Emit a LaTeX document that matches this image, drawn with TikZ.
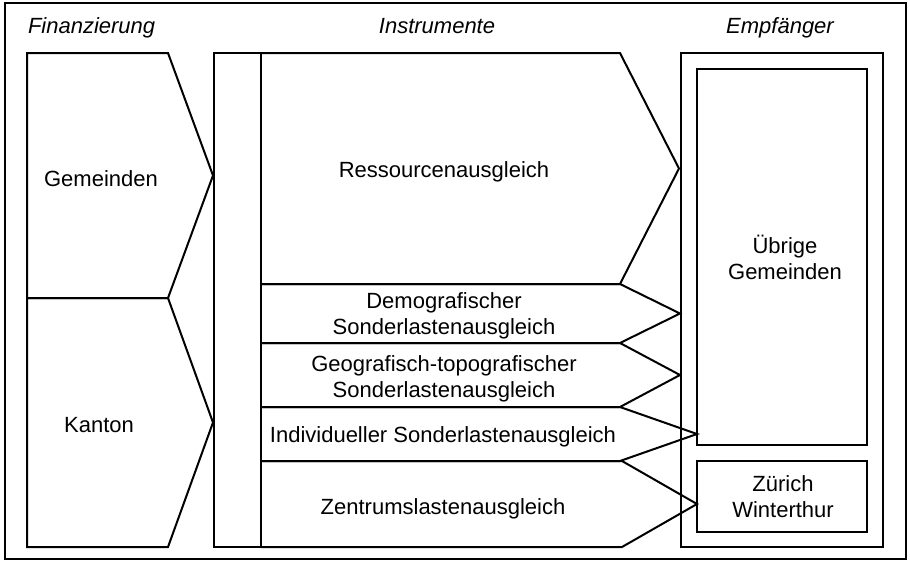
\documentclass[tikz,border=0pt]{standalone}
\usepackage{fontspec}
\setmainfont{Liberation Sans}
\usepackage{tikz}
\usetikzlibrary{arrows.meta}

\begin{document}
\begin{tikzpicture}[x=0.5pt,y=-0.5pt,line width=1pt,line join=miter,every node/.style={font=\fontsize{11}{13}\selectfont,inner sep=0pt},ttl/.style={font=\fontsize{11}{13}\selectfont\itshape,anchor=base}]
\useasboundingbox (0,0) rectangle (910,562);
\draw[line width=1.25pt] (5,3) rectangle (906,559);
% column titles
\node[ttl,anchor=base west] (fin) at (27,33) {Finanzierung};
\node[ttl] (ins) at (437,33) {Instrumente};
\node[ttl] (emp) at (780,33) {Empfänger};
% financing: two chevrons
\begin{scope}
\draw (27,53) -- (168,53) -- (213,175.5) -- (168,298) -- (27,298) -- cycle;
\draw (27,298) -- (168,298) -- (213,422.5) -- (168,547) -- (27,547) -- cycle;
\node (gem) at (101,179) {Gemeinden};
\node (kan) at (99,425) {Kanton};
\end{scope}
% instruments: bar and five chevrons
\begin{scope}
\draw (214,53) rectangle (261,547);
\foreach \t/\b/\c/\p in {53/284/620/679, 284/343/620/680, 343/407/620/680, 407/461/620/697, 461/547/622/697} {\draw (261,\t) -- (\c,\t) -- (\p,{(\t+\b)/2}) -- (\c,\b) -- (261,\b);}
\node[anchor=base] (res) at (444,177) {Ressourcenausgleich};
\node[align=center] (demo) at (444,316) {Demografischer\\Sonderlastenausgleich};
\node[align=center] (geo) at (444,379) {Geografisch-topografischer\\Sonderlastenausgleich};
\node[anchor=base] (ind) at (443,442) {Individueller Sonderlastenausgleich};
\node[anchor=base] (zen) at (443,514) {Zentrumslastenausgleich};
\end{scope}
% recipients
\begin{scope}
\draw (681,53) rectangle (883,547);
\draw (697,69) rectangle (867,445);
\draw (697,461) rectangle (867,532);
\node[align=center] (ueb) at (785,257) {Übrige\\Gemeinden};
\node[align=center] (zh) at (783,497) {Zürich\\Winterthur};
\end{scope}
\end{tikzpicture}
\end{document}
